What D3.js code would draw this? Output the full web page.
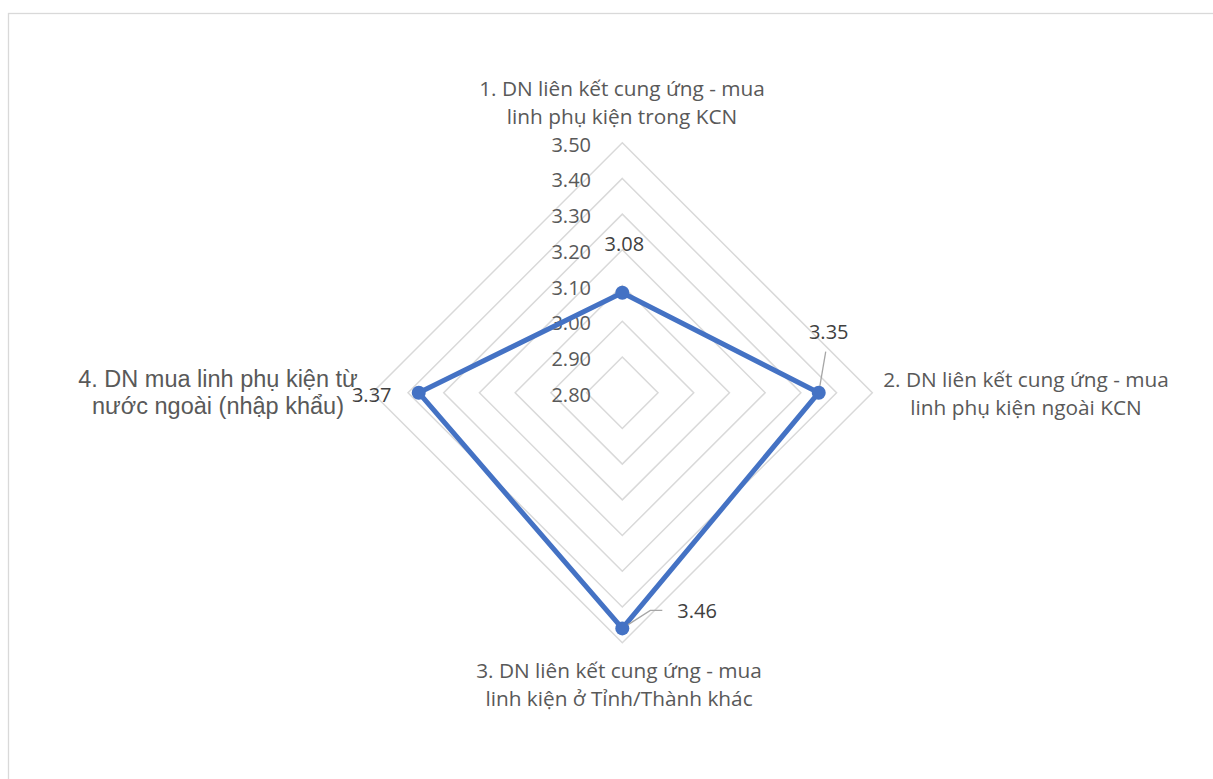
<!DOCTYPE html>
<html>
<head>
<meta charset="utf-8">
<script src="https://cdn.jsdelivr.net/npm/d3@7"></script>
<style>
  body { margin: 0; background: #fff; }
</style>
</head>
<body>
<script>
// chart data
var categories = [
  ["1. DN liên kết cung ứng - mua", "linh phụ kiện trong KCN"],
  ["2. DN liên kết cung ứng - mua", "linh phụ kiện ngoài KCN"],
  ["3. DN liên kết cung ứng - mua", "linh kiện ở Tỉnh/Thành khác"],
  ["4. DN mua linh phụ kiện từ", "nước ngoài (nhập khẩu)"]
];
var values = [3.08, 3.35, 3.46, 3.37];
var ticks = [2.80, 2.90, 3.00, 3.10, 3.20, 3.30, 3.40, 3.50];

var w = 1213;
var h = 779;
var cx = 622.3;
var cy = 392.7;

var svg = d3.select("body").append("svg")
  .attr("width", w)
  .attr("height", h);

// chart area border
svg.append("rect")
  .attr("x", 8.5).attr("y", 13.5)
  .attr("width", w).attr("height", h)
  .attr("fill", "none")
  .attr("stroke", "#d9d9d9")
  .attr("stroke-width", 1.3);

var r = d3.scaleLinear().domain([2.8, 3.5]).range([0, 250]);

// angle for each axis: up, right, down, left
function point(i, v) {
  var a = i * Math.PI / 2;
  return [cx + Math.sin(a) * r(v), cy - Math.cos(a) * r(v)];
}

var line = d3.line().curve(d3.curveLinearClosed);

// grid rings
svg.selectAll(".ring")
  .data(ticks.slice(1))
  .enter().append("path")
  .attr("class", "ring")
  .attr("d", function(t) {
    return line(categories.map(function(c, i) { return point(i, t); }));
  })
  .attr("fill", "none")
  .attr("stroke", "#d9d9d9")
  .attr("stroke-width", 1.5);

// tick labels
svg.selectAll(".tick")
  .data(ticks)
  .enter().append("text")
  .attr("class", "tick")
  .attr("x", 591)
  .attr("y", function(t) { return cy - r(t) + 2; })
  .attr("dy", "0.35em")
  .attr("text-anchor", "end")
  .style("font-family", "'Open Sans', sans-serif")
  .style("font-size", "20px")
  .style("fill", "#595959")
  .text(function(t) { return t.toFixed(2); });

// series
var pts = values.map(function(v, i) { return point(i, v); });

svg.append("path")
  .attr("d", line(pts))
  .attr("fill", "none")
  .attr("stroke", "#4472c4")
  .attr("stroke-width", 5)
  .attr("stroke-linejoin", "round");

// leader lines
var leaders = [
  null,
  [[0, 0], [7, -41]],
  [[0, 0], [28, -18], [40, -18]],
  null
];
leaders.forEach(function(l, i) {
  if (!l) return;
  svg.append("path")
    .attr("d", d3.line()(l.map(function(p) { return [pts[i][0] + p[0], pts[i][1] + p[1]]; })))
    .attr("fill", "none")
    .attr("stroke", "#a6a6a6")
    .attr("stroke-width", 1.3);
});

svg.selectAll(".marker")
  .data(pts)
  .enter().append("circle")
  .attr("class", "marker")
  .attr("cx", function(d) { return d[0]; })
  .attr("cy", function(d) { return d[1]; })
  .attr("r", 7)
  .attr("fill", "#4472c4");

// data labels
var labelOffsets = [[2, -49], [10, -61], [77, -17], [-47, 2]];
var labelAnchor = ["middle", "middle", "start", "middle"];
svg.selectAll(".dlabel")
  .data(values)
  .enter().append("text")
  .attr("class", "dlabel")
  .attr("x", function(d, i) { return pts[i][0] + labelOffsets[i][0] - (labelAnchor[i] == "start" ? 22 : 0); })
  .attr("y", function(d, i) { return pts[i][1] + labelOffsets[i][1]; })
  .attr("dy", "0.35em")
  .attr("text-anchor", function(d, i) { return labelAnchor[i]; })
  .style("font-family", "'Open Sans', sans-serif")
  .style("font-size", "20px")
  .style("fill", "#404040")
  .text(function(d) { return d.toFixed(2); });

// category labels
var catPos = [[622, 96], [1026, 387], [619, 678], [218, 387]];
categories.forEach(function(c, i) {
  var t = svg.append("text")
    .attr("text-anchor", "middle")
    .style("fill", "#595959")
    .style("font-family", i == 3 ? "'Liberation Sans', Arial, sans-serif" : "'Open Sans', sans-serif")
    .style("font-size", i == 3 ? "23.5px" : "20.8px");
  c.forEach(function(s, j) {
    t.append("tspan")
      .attr("x", catPos[i][0])
      .attr("y", catPos[i][1] + j * (i == 3 ? 26.5 : 28))
      .text(s);
  });
});
</script>
</body>
</html>
